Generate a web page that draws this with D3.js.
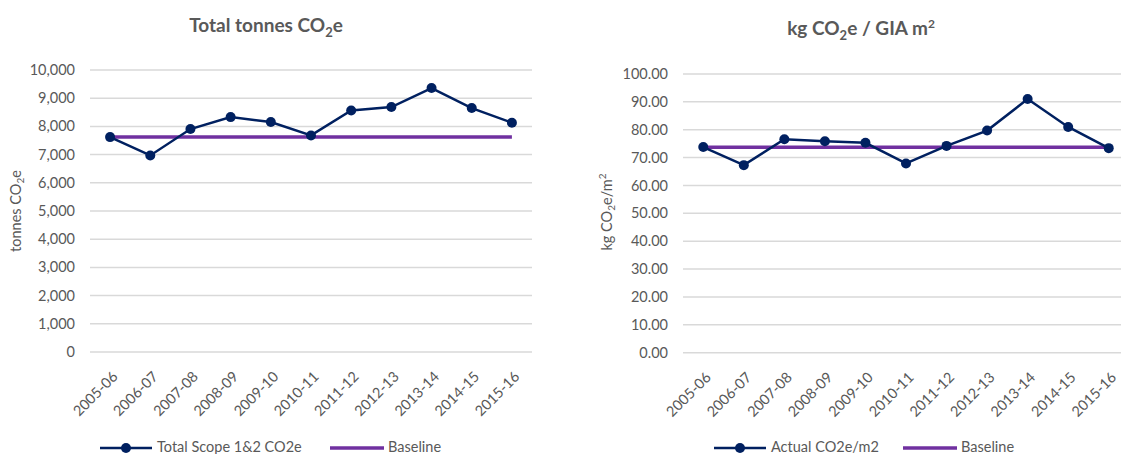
<!DOCTYPE html>
<html>
<head>
<meta charset="utf-8">
<script src="https://cdn.jsdelivr.net/npm/d3@7"></script>
<style>
  body { margin: 0; background: #fff; }
  svg { display: block; font-family: Lato, "Open Sans", sans-serif; }
</style>
</head>
<body>
<svg id="chart" width="1121" height="454"></svg>
<script>
// years shown on both x axes
var years = ["2005-06","2006-07","2007-08","2008-09","2009-10","2010-11","2011-12","2012-13","2013-14","2014-15","2015-16"];

// left chart: total tonnes
var totalTonnes = [7620, 6970, 7905, 8330, 8155, 7680, 8565, 8685, 9360, 8650, 8130];
var totalBaseline = 7620;
var totalTicks = [0,1000,2000,3000,4000,5000,6000,7000,8000,9000,10000];

// right chart: kg per m2
var perM2 = [73.8, 67.3, 76.6, 75.9, 75.3, 67.9, 74.2, 79.7, 91.0, 81.0, 73.4];
var perM2Baseline = 73.7;
var perM2Ticks = [0,10,20,30,40,50,60,70,80,90,100];

var navy = "#002060", purple = "#7030a0", grey = "#595959", grid = "#d9d9d9";

var svg = d3.select("#chart");

function drawChart(opt) {
  var g = svg.append("g");

  var x = d3.scaleBand().domain(years).range([opt.x0, opt.x1]);
  var cx = function(d) { return x(d) + x.bandwidth() / 2; };
  var y = d3.scaleLinear().domain([0, opt.max]).range([opt.yBottom, opt.yTop]);

  // title, with subscript / superscript bits
  var t = g.append("text")
    .attr("x", opt.titleX).attr("y", opt.titleY)
    .attr("text-anchor", "middle")
    .attr("fill", grey).attr("font-size", 19).attr("font-weight", "bold");
  opt.title.forEach(function(p) {
    var s = t.append("tspan").text(p[0]);
    if (p[1] == "sub") s.attr("font-size", 13).attr("dy", 5);
    else if (p[1] == "sup") s.attr("font-size", 12).attr("dy", -7);
    else if (p[1] == "back") s.attr("dy", p[2]);
  });

  // gridlines
  g.append("g").selectAll("line").data(opt.ticks).enter().append("line")
    .attr("x1", opt.x0).attr("x2", opt.x1)
    .attr("y1", d => y(d)).attr("y2", d => y(d))
    .attr("stroke", grid).attr("stroke-width", 1.5);

  // y tick labels
  g.append("g").selectAll("text").data(opt.ticks).enter().append("text")
    .attr("x", opt.x0 - 15).attr("y", d => y(d)).attr("dy", "0.35em")
    .attr("text-anchor", "end").attr("fill", grey).attr("font-size", 14.5)
    .text(opt.fmt);

  // y axis title
  var yt = g.append("text")
    .attr("transform", "translate(" + opt.yLabelX + "," + opt.yLabelY + ") rotate(-90)")
    .attr("text-anchor", "middle").attr("fill", grey).attr("font-size", 14.5);
  opt.yLabel.forEach(function(p) {
    var s = yt.append("tspan").text(p[0]);
    if (p[1] == "sub") s.attr("font-size", 10).attr("dy", 3);
    else if (p[1] == "sup") s.attr("font-size", 10).attr("dy", -6);
    else if (p[1] == "back") s.attr("dy", p[2]);
  });

  // x tick labels
  g.append("g").selectAll("text").data(years).enter().append("text")
    .attr("transform", d => "translate(" + (cx(d) + 5) + "," + (opt.yBottom + 22) + ") rotate(-45)")
    .attr("text-anchor", "end").attr("dy", "0.35em")
    .attr("fill", grey).attr("font-size", 14.5)
    .text(d => d);

  // baseline
  g.append("line")
    .attr("x1", cx(years[0])).attr("x2", cx(years[years.length - 1]))
    .attr("y1", y(opt.baseline)).attr("y2", y(opt.baseline))
    .attr("stroke", purple).attr("stroke-width", 3.5);

  // series
  var line = d3.line().x((d, i) => cx(years[i])).y(d => y(d));
  g.append("path").datum(opt.values)
    .attr("d", line).attr("fill", "none")
    .attr("stroke", navy).attr("stroke-width", 2.5);
  g.append("g").selectAll("circle").data(opt.values).enter().append("circle")
    .attr("cx", (d, i) => cx(years[i])).attr("cy", d => y(d))
    .attr("r", 5).attr("fill", navy);

  // legend (sits on the bottom edge, as in the original)
  var ly = 448;
  var lg = g.append("g");
  lg.append("line").attr("x1", opt.leg1).attr("x2", opt.leg1 + 52)
    .attr("y1", ly).attr("y2", ly).attr("stroke", navy).attr("stroke-width", 2.5);
  lg.append("circle").attr("cx", opt.leg1 + 26).attr("cy", ly).attr("r", 5).attr("fill", navy);
  lg.append("text").attr("x", opt.leg1 + 57).attr("y", 452)
    .attr("fill", grey).attr("font-size", 14.5).text(opt.seriesName);
  lg.append("line").attr("x1", opt.leg2).attr("x2", opt.leg2 + 54)
    .attr("y1", ly).attr("y2", ly).attr("stroke", purple).attr("stroke-width", 3.5);
  lg.append("text").attr("x", opt.leg2 + 58).attr("y", 452)
    .attr("fill", grey).attr("font-size", 14.5).text("Baseline");
}

drawChart({
  x0: 90, x1: 532, yTop: 70, yBottom: 352, max: 10000,
  ticks: totalTicks, fmt: d3.format(","),
  values: totalTonnes, baseline: totalBaseline,
  title: [["Total tonnes CO"], ["2", "sub"], ["e", "back", -5]],
  titleX: 266, titleY: 32,
  yLabel: [["tonnes CO"], ["2", "sub"], ["e", "back", -3]],
  yLabelX: 21, yLabelY: 211,
  seriesName: "Total Scope 1&2 CO2e", leg1: 100, leg2: 330
});

drawChart({
  x0: 683, x1: 1129, yTop: 74, yBottom: 352.7, max: 100,
  ticks: perM2Ticks, fmt: d3.format(".2f"),
  values: perM2, baseline: perM2Baseline,
  title: [["kg CO"], ["2", "sub"], ["e / GIA m", "back", -5], ["2", "sup"]],
  titleX: 861, titleY: 35,
  yLabel: [["kg CO"], ["2", "sub"], ["e/m", "back", -3], ["2", "sup"]],
  yLabelX: 612, yLabelY: 212,
  seriesName: "Actual CO2e/m2", leg1: 714, leg2: 903
});
</script>
</body>
</html>
